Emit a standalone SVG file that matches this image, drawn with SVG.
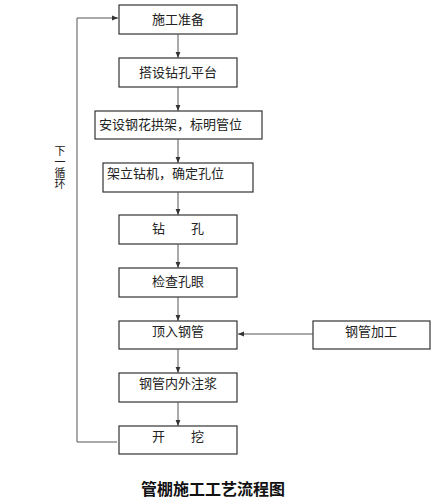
<svg xmlns="http://www.w3.org/2000/svg" width="440" height="500" viewBox="0 0 440 500">
<defs>
<marker id="ah" viewBox="0 0 10 10" refX="10" refY="5" markerWidth="6" markerHeight="6" orient="auto" markerUnits="userSpaceOnUse">
<path d="M0,1 L10,5 L0,9 Z" fill="#333"/>
</marker>
<style>
.box{fill:#fff;stroke:#333;stroke-width:1.2}
.t{font-family:"Noto Sans CJK SC","Liberation Sans",sans-serif;font-size:13px;fill:#222}
.c{stroke:#555;stroke-width:1;fill:none}
</style>
</defs>
<rect width="440" height="500" fill="#fff"/>
<g id="n1"><rect class="box" x="119" y="5" width="118" height="29"/><text class="t" x="178" y="24" text-anchor="middle">施工准备</text></g>
<g id="n2"><rect class="box" x="119" y="58" width="118" height="29"/><text class="t" x="178" y="77" text-anchor="middle">搭设钻孔平台</text></g>
<g id="n3"><rect class="box" x="95" y="111" width="167" height="28"/><text class="t" x="99" y="129">安设钢花拱架，标明管位</text></g>
<g id="n4"><rect class="box" x="103" y="163" width="150" height="29"/><text class="t" x="107" y="178">架立钻机，确定孔位</text></g>
<g id="n5"><rect class="box" x="119" y="215" width="118" height="29"/><text class="t" x="178" y="233" text-anchor="middle">钻　　孔</text></g>
<g id="n6"><rect class="box" x="119" y="268" width="118" height="29"/><text class="t" x="178" y="286" text-anchor="middle">检查孔眼</text></g>
<g id="n7"><rect class="box" x="119" y="321" width="118" height="28"/><text class="t" x="178" y="336" text-anchor="middle">顶入钢管</text></g>
<g id="n8"><rect class="box" x="313" y="321" width="117" height="28"/><text class="t" x="371" y="336" text-anchor="middle">钢管加工</text></g>
<g id="n9"><rect class="box" x="119" y="373" width="118" height="29"/><text class="t" x="178" y="388" text-anchor="middle">钢管内外注浆</text></g>
<g id="n10"><rect class="box" x="119" y="426" width="118" height="28"/><text class="t" x="178" y="441" text-anchor="middle">开　　挖</text></g>
<g id="connectors">
<line class="c" x1="178" y1="34" x2="178" y2="58" marker-end="url(#ah)"/>
<line class="c" x1="178" y1="87" x2="178" y2="111" marker-end="url(#ah)"/>
<line class="c" x1="178" y1="139" x2="178" y2="163" marker-end="url(#ah)"/>
<line class="c" x1="178" y1="192" x2="178" y2="215" marker-end="url(#ah)"/>
<line class="c" x1="178" y1="244" x2="178" y2="268" marker-end="url(#ah)"/>
<line class="c" x1="178" y1="297" x2="178" y2="321" marker-end="url(#ah)"/>
<line class="c" x1="178" y1="349" x2="178" y2="373" marker-end="url(#ah)"/>
<line class="c" x1="178" y1="402" x2="178" y2="426" marker-end="url(#ah)"/>
<line class="c" x1="313" y1="334" x2="238" y2="334" marker-end="url(#ah)"/>
<polyline class="c" points="117,442 77,442 77,18 118,18" marker-end="url(#ah)"/>
</g>
<g id="loop-label">
<text class="t" x="60" y="145" style="font-size:11px;writing-mode:vertical-rl">下一循环</text>
</g>
<text x="213" y="495" text-anchor="middle" style="font-family:'Noto Sans CJK SC',serif;font-size:16px;font-weight:bold;fill:#111">管棚施工工艺流程图</text>
</svg>
